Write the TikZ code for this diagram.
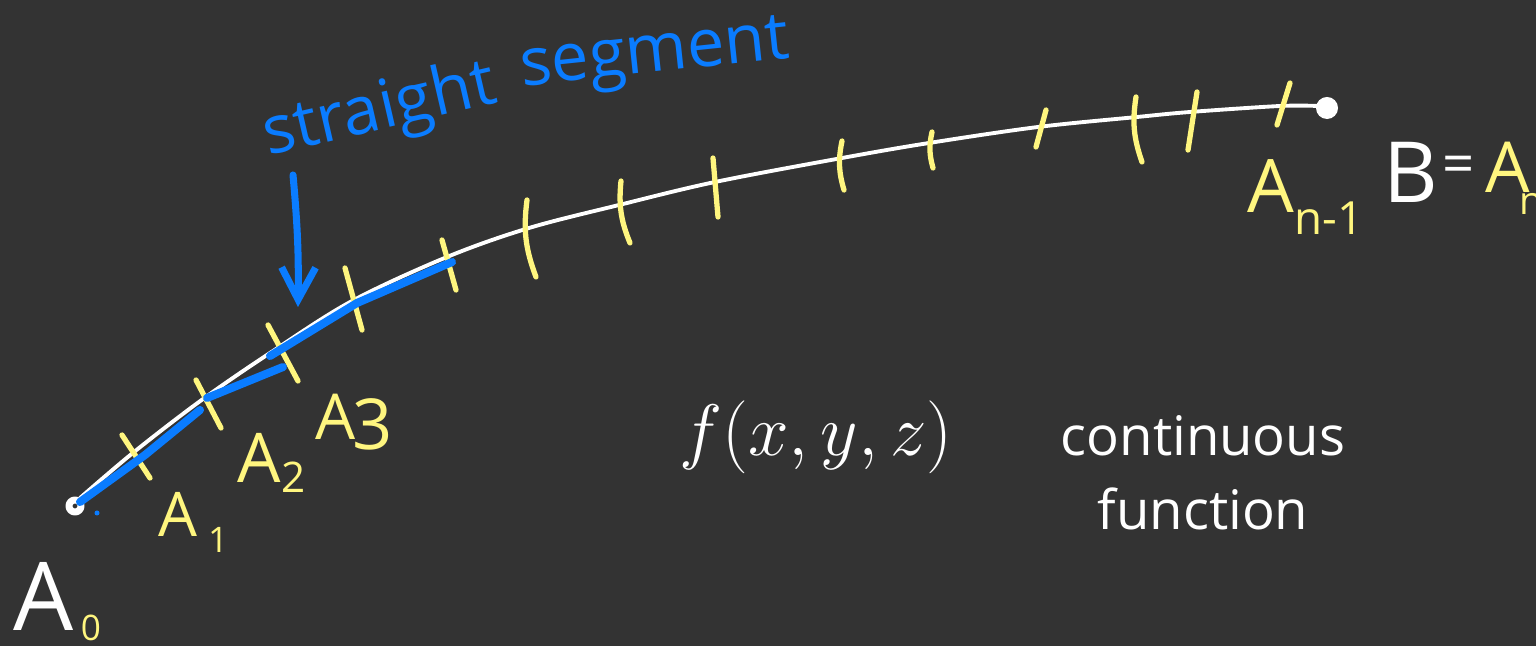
\documentclass[tikz,border=0pt]{standalone}
\usepackage{fontspec}
\setmainfont{Open Sans}
\usetikzlibrary{arrows.meta}
\definecolor{board}{HTML}{333333}
\definecolor{chalkyellow}{HTML}{FFF67F}
\definecolor{chalkblue}{HTML}{0A7CFF}
\tikzset{
  every picture/.style={line cap=round, line join=round},
  curve/.style={draw=white, line width=1.1pt},
  tick/.style={draw=chalkyellow, line width=1.5pt},
  seg/.style={draw=chalkblue, line width=2.3pt},
  arrow/.style={-{Straight Barb[length=3.2mm, width=3.4mm]}, draw=chalkblue, line width=2pt},
  ylabel/.style={text=chalkyellow, inner sep=0pt, anchor=base west},
  wlabel/.style={text=white, inner sep=0pt, align=center},
  blabel/.style={text=chalkblue, inner sep=0pt, font=\fontsize{19}{19}\selectfont},
}
% point label with a lowered index: size, letter, index size, index, kern, drop
\newcommand{\ptlabel}[6]{{\fontsize{#1}{#1}\selectfont #2}\kern#5\raisebox{-#6}{\fontsize{#3}{#3}\selectfont #4}}

\begin{document}
\begin{tikzpicture}[x=0.01cm, y=-0.01cm]
  \fill[board] (0,0) rectangle (1536,646);
  \useasboundingbox (0,0) rectangle (1536,646);
  % the path from A0 to B
  \draw[curve] plot[smooth, tension=0.55] coordinates {(80,498) (134,452) (203,399) (273,351) (352,301) (447,257) (529,228) (619,205) (715,182) (842,158) (929,143) (1038,127) (1137,117) (1190,112) (1280,106) (1318,106)};
  \coordinate (A0) at (75,506);
  \coordinate (B) at (1327,108);
  \draw[white, line width=2pt] (A0) circle[radius=0.06cm];
  \fill[white] (B) circle[radius=0.11cm];
  % yellow division marks
  \foreach \xa/\ya/\xb/\yb in {122/435/150/478, 196/380/221/428, 268/325/298/381, 345/268/362/330, 442/240/456/290, 713/158/718/217, 1046/110/1036/147, 1197/92/1188/150, 1290/83/1277/125}
    \draw[tick] (\xa,\ya) -- (\xb,\yb);
  \foreach \xa/\ya/\xb/\yb in {527/200/536/277, 621/181/630/243, 842/141/844/190, 932/132/933/168, 1136/97/1142/162}
    \draw[tick] (\xa,\ya) to[bend right=14] (\xb,\yb);
  % straight segments
  \draw[seg] (80,502) -- (145,455) -- (200,410);
  \draw[seg] (207,398) -- (283,367);
  \draw[seg] (270,356) -- (357,303) -- (452,262);
  \fill[chalkblue] (97,513) circle[radius=0.025cm];
  % labels of the points
  \node[ylabel] (a0) at (13,630) {\color{white}\ptlabel{27}{A}{10}{\color{chalkyellow}0}{2pt}{3pt}};
  \node[ylabel] (a1) at (158,537) {\ptlabel{17.5}{A}{10}{1}{3pt}{4.3pt}};
  \node[ylabel] (a2) at (237,482) {\ptlabel{19.5}{A}{12}{2}{0pt}{3pt}};
  \node[ylabel] (a3) at (315,440) {\ptlabel{18}{A}{20}{3}{-1pt}{2.8pt}};
  \node[ylabel] (an1) at (1247,213) {\ptlabel{21}{A}{13}{n-1}{0pt}{6pt}};
  \node[ylabel, text=white] (b) at (1383,203) {\fontsize{24}{24}\selectfont B};
  \node[wlabel, font=\fontsize{16}{16}\selectfont] (eq) at (1459,170) {=};
  \node[ylabel] (an) at (1485,193) {\ptlabel{20}{A}{11}{n}{-3pt}{6pt}};
  % texts
  \node[wlabel, font=\fontsize{22}{22}\selectfont] (fxyz) at (816,437) {$f(x,y,z)$};
  \node[wlabel, font=\fontsize{15.5}{21}\selectfont] (cont) at (1203,473) {continuous\\function};
  \node[blabel, rotate=13] (straight) at (380,112) {straight};
  \node[blabel, rotate=6] (segment) at (655,58) {segment};
  \coordinate (pointer) at (293,175);
  \coordinate (target) at (298,307);
  \draw[arrow] (pointer) to[bend left=3] (target);
\end{tikzpicture}
\end{document}
